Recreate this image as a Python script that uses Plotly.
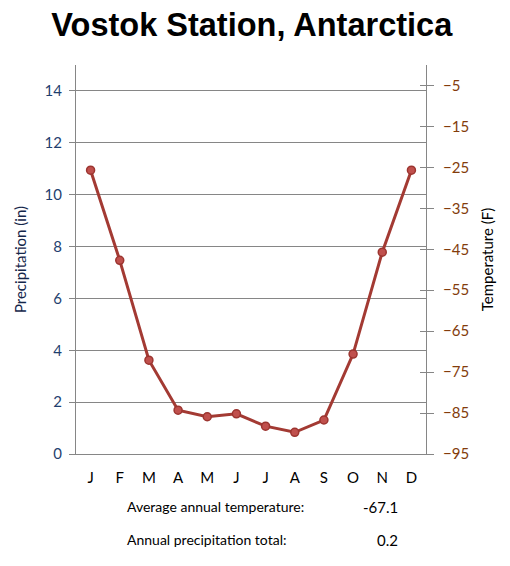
import plotly.graph_objects as go

# Vostok Station climate chart
meses = ['J', 'F', 'M', 'A', 'M ', 'J ', 'J  ', 'A ', 'S', 'O', 'N', 'D']
temperatura = [-25.7, -47.7, -72.1, -84.3, -85.9, -85.2, -88.2, -89.7, -86.7, -70.6, -45.7, -25.7]
ticks_precip = [0, 2, 4, 6, 8, 10, 12, 14]
ticks_temp = [-95, -85, -75, -65, -55, -45, -35, -25, -15, -5]
media_temp = '-67.1'
total_precip = '0.2'

fonte = 'Lato'
cinza = '#868686'

fig = go.Figure()
# eixo da precipitação (sem barras visíveis no original)
fig.add_trace(go.Scatter(x=meses, y=[None] * len(meses), yaxis='y', mode='lines',
                         showlegend=False, hoverinfo='skip'))
# eixo extra só para os traços internos da escala de temperatura
fig.add_trace(go.Scatter(x=meses, y=[None] * len(meses), yaxis='y3', mode='lines',
                         showlegend=False, hoverinfo='skip'))
fig.add_trace(go.Scatter(
    x=meses, y=temperatura, yaxis='y2', mode='lines+markers',
    line=dict(color='#A33A33', width=3),
    marker=dict(size=8, color='#C0504D', line=dict(color='#9C3530', width=1.5)),
    showlegend=False
))

fig.update_layout(
    width=510, height=566,
    margin=dict(l=66, r=92, t=57, b=120),
    plot_bgcolor='white', paper_bgcolor='white',
    font=dict(family=fonte, size=14, color='black'),
    title=dict(text='<b>Vostok Station, Antarctica</b>', x=0.478, xanchor='center',
               y=0.971, yanchor='middle',
               font=dict(family='Liberation Sans', size=32.5, color='black')),
    xaxis=dict(type='category', tickvals=meses, ticktext=[m.strip() for m in meses],
               range=[-0.5, len(meses) - 0.5],
               showgrid=False, showline=True, linecolor=cinza, linewidth=1,
               ticks='', ticklabelstandoff=10, tickfont=dict(size=15, color='black'),
               zeroline=False),
    yaxis=dict(range=[0, 15], tickvals=ticks_precip, showgrid=True, gridcolor=cinza,
               gridwidth=1, showline=True, linecolor=cinza, ticks='outside',
               tickcolor=cinza, ticklen=6, zeroline=False, ticklabelstandoff=4,
               tickfont=dict(size=15, color='#1F3F6F'),
               title=dict(text='Precipitation (in)', standoff=14,
                          font=dict(size=15, color='#14264A'))),
    yaxis2=dict(range=[-95, 0], tickvals=ticks_temp, overlaying='y', side='right',
                showgrid=False, showline=True, linecolor=cinza, ticks='outside',
                tickcolor=cinza, ticklen=7, zeroline=False, ticklabelstandoff=6,
                tickfont=dict(size=15, color='#833C0B'),
                title=dict(text='Temperature (F)', standoff=14,
                           font=dict(size=15, color='black'))),
    yaxis3=dict(range=[-95, 0], tickvals=ticks_temp, overlaying='y', side='right',
                showgrid=False, showline=False, ticks='inside', tickcolor=cinza,
                ticklen=6, showticklabels=False, zeroline=False),
)

for y, rotulo, valor in [(-0.136, 'Average annual temperature:', media_temp),
                         (-0.221, 'Annual precipitation total:', total_precip)]:
    fig.add_annotation(x=0.139, y=y, xref='paper', yref='paper', text=rotulo,
                       showarrow=False, xanchor='left', yanchor='middle',
                       font=dict(size=14, color='black'))
    fig.add_annotation(x=0.926, y=y, xref='paper', yref='paper', text=valor,
                       showarrow=False, xanchor='right', yanchor='middle',
                       font=dict(size=15, color='black'))

fig.write_html('out.html')
